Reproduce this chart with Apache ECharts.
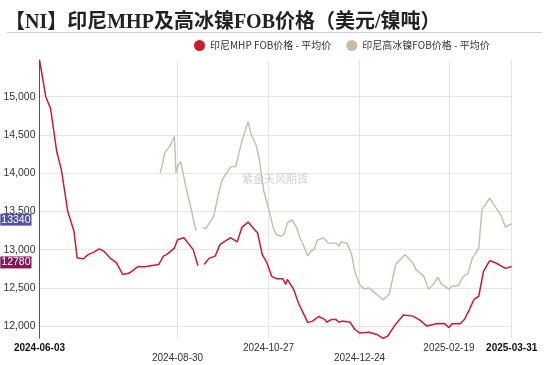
<!DOCTYPE html>
<html>
<head>
<meta charset="utf-8">
<script src="https://cdn.jsdelivr.net/npm/echarts@6/dist/echarts.min.js"></script>
<style>html,body{margin:0;padding:0;background:#fff;}#c{width:550px;height:365px;}</style>
</head>
<body>
<div id="c"></div>
<script>
const titleText = '【NI】印尼MHP及高冰镍FOB价格（美元/镍吨）';
const seriesNames = ['印尼MHP FOB价格 - 平均价', '印尼高冰镍FOB价格 - 平均价'];
const xStart = '2024-06-03';
const xEnd = '2025-03-31';
const tickDates = ['2024-06-03', '2024-08-30', '2024-10-27', '2024-12-24', '2025-02-19', '2025-03-31'];
const lowerRowTicks = ['2024-08-30', '2024-12-24'];
const boldTicks = ['2024-06-03', '2025-03-31'];

const mhpDates = ['2024-06-03','2024-06-07','2024-06-10','2024-06-14','2024-06-17','2024-06-21','2024-06-25','2024-06-27',
'2024-07-01','2024-07-04','2024-07-08','2024-07-11','2024-07-14','2024-07-18','2024-07-22','2024-07-26','2024-07-30',
'2024-08-05','2024-08-09','2024-08-13','2024-08-18','2024-08-21','2024-08-23','2024-08-28','2024-08-30',
'2024-09-03','2024-09-09','2024-09-12','2024-09-14','2024-09-16','2024-09-19','2024-09-23','2024-09-26','2024-09-30',
'2024-10-03','2024-10-07','2024-10-10','2024-10-14','2024-10-17','2024-10-20','2024-10-23','2024-10-26','2024-10-29',
'2024-11-01','2024-11-05','2024-11-07','2024-11-08','2024-11-12','2024-11-15','2024-11-18','2024-11-21','2024-11-24','2024-11-28',
'2024-12-02','2024-12-03','2024-12-06','2024-12-09','2024-12-11','2024-12-13','2024-12-18','2024-12-21','2024-12-24','2024-12-30',
'2025-01-04','2025-01-08','2025-01-11','2025-01-16','2025-01-21','2025-01-27','2025-01-31',
'2025-02-05','2025-02-11','2025-02-16','2025-02-19','2025-02-21','2025-02-26',
'2025-03-01','2025-03-04','2025-03-07','2025-03-10','2025-03-13','2025-03-17','2025-03-21','2025-03-27','2025-03-31'];
const mhpValues = [15480,15000,14850,14280,14040,13500,13240,12890,
12880,12935,12970,13010,12980,12890,12830,12675,12690,
12780,12775,12790,12805,12915,12935,13020,13130,
13155,13000,12790,null,12805,12885,12915,13065,13120,
13155,13100,13290,13360,13285,13220,12935,12825,12650,
12620,12620,12545,12610,12480,12305,12175,12045,12065,12125,
12085,12050,12085,12085,12050,12065,12050,11955,11910,11920,
11890,11840,11870,12025,12145,12130,12085,
12000,12030,12035,11980,12030,12030,
12090,12215,12350,12390,12715,12855,12825,12755,12780];

const nickelDates = ['2024-08-19','2024-08-22','2024-08-25','2024-08-28','2024-08-29','2024-08-30',
'2024-09-01','2024-09-04','2024-09-08','2024-09-10','2024-09-11','2024-09-14','2024-09-15','2024-09-17','2024-09-22','2024-09-25','2024-09-27','2024-09-30',
'2024-10-03','2024-10-06','2024-10-10','2024-10-12','2024-10-14','2024-10-16','2024-10-19','2024-10-21','2024-10-24','2024-10-27','2024-10-30',
'2024-11-01','2024-11-04','2024-11-06','2024-11-08','2024-11-11','2024-11-14','2024-11-16','2024-11-19','2024-11-21','2024-11-23','2024-11-25','2024-11-27',
'2024-12-01','2024-12-04','2024-12-09','2024-12-11','2024-12-12','2024-12-16','2024-12-19','2024-12-21','2024-12-24','2024-12-27','2024-12-30',
'2025-01-04','2025-01-08','2025-01-12','2025-01-16','2025-01-22','2025-01-27','2025-01-29',
'2025-02-03','2025-02-06','2025-02-09','2025-02-12','2025-02-14','2025-02-19','2025-02-21','2025-02-25','2025-02-28',
'2025-03-03','2025-03-06','2025-03-10','2025-03-12','2025-03-17','2025-03-21','2025-03-24','2025-03-27','2025-03-31'];
const nickelValues = [14000,14275,14350,14480,14000,14090,
14150,13850,13500,13305,13250,null,13290,13275,13435,13720,13890,14000,
14085,14085,14420,14545,14675,14500,14370,14195,13760,13545,13285,
13195,13175,13205,13350,13390,13285,13155,13020,12915,12980,13000,13120,
13155,13085,13085,13045,13100,13085,12935,12715,12545,12485,12500,
12415,12340,12420,12805,12935,12825,12740,
12650,12480,12545,12640,12555,12480,12520,12530,12645,
12685,12890,13020,13520,13675,13545,13455,13295,13340];

const watermark = '紫金天风期货';

function buildDays(a, b) {
  const out = [];
  let t = Date.UTC(+a.slice(0,4), +a.slice(5,7)-1, +a.slice(8,10));
  const end = Date.UTC(+b.slice(0,4), +b.slice(5,7)-1, +b.slice(8,10));
  while (t <= end) { out.push(new Date(t).toISOString().slice(0,10)); t += 86400000; }
  return out;
}
const categories = buildDays(xStart, xEnd);
const tickSet = new Set(tickDates);
const pair = (ds, vs) => ds.map((d, i) => [d, vs[i]]);
const lastOf = vs => { for (let i = vs.length - 1; i >= 0; i--) if (vs[i] != null) return vs[i]; return null; };

function tagLine(value, bg) {
  return {
    silent: true, symbol: 'none', animation: false,
    lineStyle: {color: 'rgba(0,0,0,0)', width: 0, type: 'solid'},
    data: [{yAxis: value}],
    label: {show: true, position: 'start', distance: 8, formatter: '{c}', color: '#fff', backgroundColor: bg,
      padding: [1, 1, 0, 1], fontSize: 10.5, fontFamily: 'Arial, Liberation Sans', offset: [0, -4]}
  };
}

const chart = echarts.init(document.getElementById('c'), null, {renderer: 'canvas'});
chart.setOption({
  animation: false,
  title: {
    text: titleText, left: 0, top: 8,
    textStyle: {fontFamily: "'Liberation Serif','Noto Sans CJK SC',serif", fontWeight: 'bold', fontSize: 20, color: '#222'}
  },
  legend: {
    data: seriesNames, left: 189, top: 35, icon: 'circle', itemWidth: 11, itemHeight: 11, itemGap: 15,
    textStyle: {fontSize: 10, color: '#333', fontFamily: "'Noto Sans CJK SC', sans-serif"}
  },
  graphic: [
    {type: 'line', shape: {x1: 7, y1: 32.5, x2: 542, y2: 32.5}, style: {stroke: '#cfcfcf', lineWidth: 1}, silent: true},
    {type: 'text', x: 275, y: 179, style: {text: watermark, fill: 'rgba(170,170,170,0.55)', font: "11px 'Noto Sans CJK SC'", textAlign: 'center', textVerticalAlign: 'middle'}, silent: true, z: 100}
  ],
  grid: {left: 39.5, right: 38.3, top: 60, bottom: 26.7, containLabel: false},
  xAxis: {
    type: 'category', data: categories, boundaryGap: false,
    axisLine: {show: false}, axisTick: {show: false},
    splitLine: {show: true, interval: (i, v) => tickSet.has(v), lineStyle: {color: '#e4e4e4', width: 1}},
    axisLabel: {
      interval: (i, v) => tickSet.has(v), margin: 5,
      formatter: v => boldTicks.includes(v) ? '{b|' + v + '}' : (lowerRowTicks.includes(v) ? '{l|' + v + '}' : '{n|' + v + '}'),
      rich: {
        b: {fontSize: 10, fontWeight: 'bold', color: '#111', fontFamily: 'Arial, Liberation Sans'},
        n: {fontSize: 10, color: '#333', fontFamily: 'Arial, Liberation Sans'},
        l: {fontSize: 10, color: '#333', fontFamily: 'Arial, Liberation Sans', padding: [10, 0, 0, 0]}
      }
    }
  },
  yAxis: {
    type: 'value', min: 'dataMin', max: 'dataMax', splitNumber: 7,
    axisLine: {show: true, lineStyle: {color: '#555', width: 1}},
    axisTick: {show: false},
    axisLabel: {showMinLabel: false, showMaxLabel: false, fontSize: 10.5, color: '#333', margin: 4, fontFamily: 'Arial, Liberation Sans'},
    splitLine: {show: true, showMinLine: false, showMaxLine: false, lineStyle: {color: '#e6e6e6', width: 1}}
  },
  series: [
    {
      name: seriesNames[0], type: 'line', data: pair(mhpDates, mhpValues), showSymbol: false, symbol: 'circle',
      itemStyle: {color: '#c81d2c'}, lineStyle: {color: '#c81d2c', width: 1.5}, z: 3,
      markLine: tagLine(lastOf(mhpValues), '#85175a')
    },
    {
      name: seriesNames[1], type: 'line', data: pair(nickelDates, nickelValues), showSymbol: false, symbol: 'circle',
      itemStyle: {color: '#c6bca8'}, lineStyle: {color: '#c6bca8', width: 1.4}, z: 2,
      markLine: tagLine(lastOf(nickelValues), '#5151a6')
    }
  ]
});
</script>
</body>
</html>
